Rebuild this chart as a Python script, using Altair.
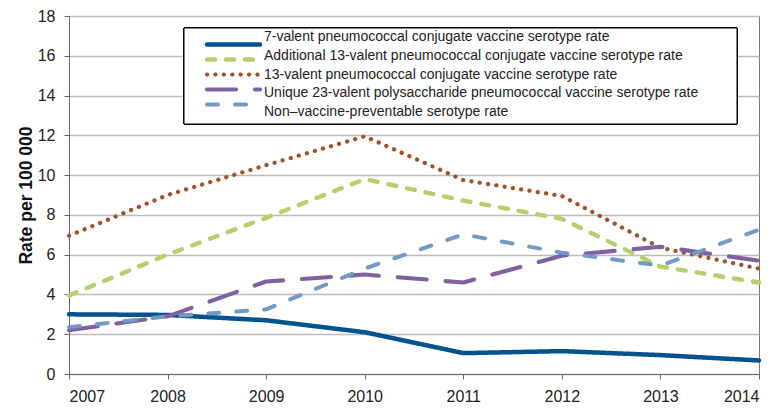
import altair as alt
import pandas as pd

years = [2007, 2008, 2009, 2010, 2011, 2012, 2013, 2014]
series = [
    "7-valent pneumococcal conjugate vaccine serotype rate",
    "Additional 13-valent pneumococcal conjugate vaccine serotype rate",
    "13-valent pneumococcal conjugate vaccine serotype rate",
    "Unique 23-valent polysaccharide pneumococcal vaccine serotype rate",
    "Non\u2013vaccine-preventable serotype rate",
]
pcv7 = [3.0, 2.97, 2.7, 2.1, 1.05, 1.15, 0.95, 0.68]
add13 = [3.95, 6.0, 7.85, 9.8, 8.72, 7.8, 5.4, 4.6]
pcv13 = [6.95, 9.0, 10.5, 11.95, 9.75, 8.95, 6.35, 5.3]
ppv23 = [2.2, 2.9, 4.65, 5.0, 4.6, 5.95, 6.4, 5.7]
nonvt = [2.35, 2.9, 3.25, 5.3, 7.02, 6.1, 5.45, 7.25]
y_ticks = list(range(0, 19, 2))

colors = ["#00538F", "#B5D06A", "#A0522D", "#7F60A0", "#7399C6"]
dashes = [[1, 0], [8, 11], [0.1, 8.3], [29, 19], [11, 17]]
widths = [4.5, 4, 4, 4, 4]

rows = []
for name, vals in zip(series, [pcv7, add13, pcv13, ppv23, nonvt]):
    for yr, v in zip(years, vals):
        rows.append({"year": yr, "series": name, "rate": v})
df = pd.DataFrame(rows)
leg_df = pd.DataFrame({"series": series})

color_enc = alt.Color("series:N", scale=alt.Scale(domain=series, range=colors), legend=None)
dash_enc = alt.StrokeDash("series:N", scale=alt.Scale(domain=series, range=dashes), legend=None)
size_enc = alt.Size("series:N", scale=alt.Scale(domain=series, range=widths), legend=None)

lines = alt.Chart(df).mark_line(strokeCap="round", strokeJoin="round").encode(
    x=alt.X("year:Q", scale=alt.Scale(domain=[2007, 2014], nice=False, zero=False),
            axis=alt.Axis(values=years, format="d", title=None, grid=False,
                          tickSize=5, labelPadding=9, domainColor="#666", tickColor="#666",
                          labelFontSize=16, labelColor="#222", labelFont="Liberation Sans")),
    y=alt.Y("rate:Q", scale=alt.Scale(domain=[0, 18], nice=False),
            axis=alt.Axis(values=y_ticks, title="Rate per 100 000", titleFontSize=17.5,
                          titleFont="Liberation Sans", titleFontWeight="bold", titleColor="#111",
                          titlePadding=2, tickSize=5, labelPadding=9,
                          domainColor="#666", tickColor="#666", gridColor="#BBBBBB", gridWidth=1.5,
                          labelFontSize=16, labelColor="#222", labelFont="Liberation Sans")),
    color=color_enc,
    strokeDash=dash_enc,
    size=size_enc,
    detail="series:N",
)

box = alt.Chart(leg_df).mark_rect(fill="white", stroke="black", strokeWidth=1).encode(
    x=alt.value(115), x2=alt.value(668), y=alt.value(12), y2=alt.value(108)
)

leg_y = alt.Y("series:N", scale=alt.Scale(domain=series, range=[21, 96], padding=0), axis=None)

leg_lines = alt.Chart(leg_df).mark_rule(strokeCap="round").encode(
    x=alt.value(138), x2=alt.value(191), y=leg_y,
    color=color_enc, strokeDash=dash_enc, size=size_enc,
)

leg_text = alt.Chart(leg_df).mark_text(align="left", baseline="middle", fontSize=14,
                                        font="Liberation Sans", color="#222").encode(
    x=alt.value(195), y=leg_y, text="series:N"
)

chart = alt.layer(lines, box, leg_lines, leg_text).resolve_scale(y="independent").properties(
    width=690, height=358,
    autosize=alt.AutoSizeParams(type="none"),
    padding={"left": 61, "top": 8, "right": 15, "bottom": 30},
).configure_view(stroke="#777", strokeWidth=1)

chart.save("out.html", embed_options={"renderer": "svg", "actions": False})
